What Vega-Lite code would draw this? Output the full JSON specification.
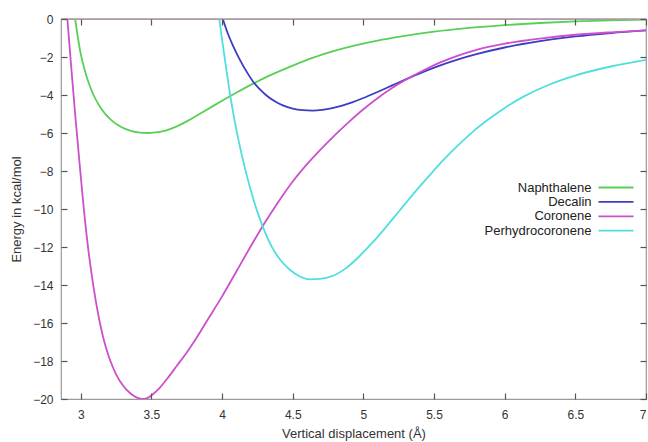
{
  "$schema": "https://vega.github.io/schema/vega-lite/v6.json",
  "width": 585,
  "height": 380,
  "autosize": {"type": "none"},
  "padding": {"left": 61, "top": 19, "right": 2, "bottom": 43},
  "background": "white",
  "config": {
    "font": "Liberation Sans",
    "view": {"stroke": "#9a9a9a", "strokeWidth": 1.2},
    "axis": {"grid": false, "domain": false, "labelFontSize": 12, "labelColor": "#333333", "titleFontSize": 13, "titleFontWeight": "normal", "titleColor": "#333333"}
  },
  "datasets": {
    "curves": [
      {"molecule": "Naphthalene", "r": 2.96, "E": 0},
      {"molecule": "Naphthalene", "r": 2.98, "E": -1.0},
      {"molecule": "Naphthalene", "r": 3.0, "E": -1.85},
      {"molecule": "Naphthalene", "r": 3.03, "E": -2.75},
      {"molecule": "Naphthalene", "r": 3.06, "E": -3.45},
      {"molecule": "Naphthalene", "r": 3.09, "E": -4.0},
      {"molecule": "Naphthalene", "r": 3.13, "E": -4.55},
      {"molecule": "Naphthalene", "r": 3.17, "E": -4.97},
      {"molecule": "Naphthalene", "r": 3.21, "E": -5.28},
      {"molecule": "Naphthalene", "r": 3.26, "E": -5.57},
      {"molecule": "Naphthalene", "r": 3.31, "E": -5.77},
      {"molecule": "Naphthalene", "r": 3.36, "E": -5.9},
      {"molecule": "Naphthalene", "r": 3.42, "E": -5.98},
      {"molecule": "Naphthalene", "r": 3.47, "E": -6.0},
      {"molecule": "Naphthalene", "r": 3.53, "E": -5.97},
      {"molecule": "Naphthalene", "r": 3.6, "E": -5.87},
      {"molecule": "Naphthalene", "r": 3.68, "E": -5.65},
      {"molecule": "Naphthalene", "r": 3.76, "E": -5.35},
      {"molecule": "Naphthalene", "r": 3.84, "E": -5.0},
      {"molecule": "Naphthalene", "r": 3.92, "E": -4.65},
      {"molecule": "Naphthalene", "r": 4.0, "E": -4.3},
      {"molecule": "Naphthalene", "r": 4.1, "E": -3.88},
      {"molecule": "Naphthalene", "r": 4.22, "E": -3.4},
      {"molecule": "Naphthalene", "r": 4.35, "E": -2.93},
      {"molecule": "Naphthalene", "r": 4.5, "E": -2.45},
      {"molecule": "Naphthalene", "r": 4.65, "E": -2.02},
      {"molecule": "Naphthalene", "r": 4.8, "E": -1.67},
      {"molecule": "Naphthalene", "r": 4.95, "E": -1.38},
      {"molecule": "Naphthalene", "r": 5.1, "E": -1.14},
      {"molecule": "Naphthalene", "r": 5.26, "E": -0.93},
      {"molecule": "Naphthalene", "r": 5.5, "E": -0.67},
      {"molecule": "Naphthalene", "r": 5.75, "E": -0.47},
      {"molecule": "Naphthalene", "r": 6.0, "E": -0.32},
      {"molecule": "Naphthalene", "r": 6.25, "E": -0.21},
      {"molecule": "Naphthalene", "r": 6.5, "E": -0.13},
      {"molecule": "Naphthalene", "r": 6.75, "E": -0.07},
      {"molecule": "Naphthalene", "r": 7.0, "E": -0.03},
      {"molecule": "Decalin", "r": 4.005, "E": 0},
      {"molecule": "Decalin", "r": 4.04, "E": -0.75},
      {"molecule": "Decalin", "r": 4.08, "E": -1.45},
      {"molecule": "Decalin", "r": 4.13, "E": -2.2},
      {"molecule": "Decalin", "r": 4.18, "E": -2.85},
      {"molecule": "Decalin", "r": 4.22, "E": -3.3},
      {"molecule": "Decalin", "r": 4.27, "E": -3.72},
      {"molecule": "Decalin", "r": 4.31, "E": -4.0},
      {"molecule": "Decalin", "r": 4.37, "E": -4.32},
      {"molecule": "Decalin", "r": 4.43, "E": -4.55},
      {"molecule": "Decalin", "r": 4.5, "E": -4.72},
      {"molecule": "Decalin", "r": 4.57, "E": -4.8},
      {"molecule": "Decalin", "r": 4.64, "E": -4.82},
      {"molecule": "Decalin", "r": 4.71, "E": -4.78},
      {"molecule": "Decalin", "r": 4.78, "E": -4.69},
      {"molecule": "Decalin", "r": 4.85, "E": -4.56},
      {"molecule": "Decalin", "r": 4.92, "E": -4.39},
      {"molecule": "Decalin", "r": 5.0, "E": -4.16},
      {"molecule": "Decalin", "r": 5.1, "E": -3.84},
      {"molecule": "Decalin", "r": 5.2, "E": -3.51},
      {"molecule": "Decalin", "r": 5.3, "E": -3.18},
      {"molecule": "Decalin", "r": 5.42, "E": -2.8},
      {"molecule": "Decalin", "r": 5.54, "E": -2.45},
      {"molecule": "Decalin", "r": 5.66, "E": -2.15},
      {"molecule": "Decalin", "r": 5.8, "E": -1.85},
      {"molecule": "Decalin", "r": 6.0, "E": -1.5},
      {"molecule": "Decalin", "r": 6.25, "E": -1.17},
      {"molecule": "Decalin", "r": 6.5, "E": -0.92},
      {"molecule": "Decalin", "r": 6.75, "E": -0.74},
      {"molecule": "Decalin", "r": 7.0, "E": -0.6},
      {"molecule": "Coronene", "r": 2.905, "E": 0},
      {"molecule": "Coronene", "r": 2.93, "E": -2.3},
      {"molecule": "Coronene", "r": 2.96, "E": -5.0},
      {"molecule": "Coronene", "r": 3.0, "E": -8.3},
      {"molecule": "Coronene", "r": 3.04, "E": -11.3},
      {"molecule": "Coronene", "r": 3.09, "E": -14.1},
      {"molecule": "Coronene", "r": 3.13, "E": -15.8},
      {"molecule": "Coronene", "r": 3.16, "E": -16.8},
      {"molecule": "Coronene", "r": 3.2, "E": -17.8},
      {"molecule": "Coronene", "r": 3.25, "E": -18.7},
      {"molecule": "Coronene", "r": 3.3, "E": -19.3},
      {"molecule": "Coronene", "r": 3.35, "E": -19.7},
      {"molecule": "Coronene", "r": 3.39, "E": -19.9},
      {"molecule": "Coronene", "r": 3.43, "E": -20.0},
      {"molecule": "Coronene", "r": 3.47, "E": -19.95},
      {"molecule": "Coronene", "r": 3.51, "E": -19.75},
      {"molecule": "Coronene", "r": 3.56, "E": -19.4},
      {"molecule": "Coronene", "r": 3.62, "E": -18.85},
      {"molecule": "Coronene", "r": 3.68, "E": -18.25},
      {"molecule": "Coronene", "r": 3.75, "E": -17.55},
      {"molecule": "Coronene", "r": 3.8, "E": -17.0},
      {"molecule": "Coronene", "r": 3.9, "E": -15.8},
      {"molecule": "Coronene", "r": 4.0, "E": -14.6},
      {"molecule": "Coronene", "r": 4.1, "E": -13.3},
      {"molecule": "Coronene", "r": 4.2, "E": -12.0},
      {"molecule": "Coronene", "r": 4.3, "E": -10.75},
      {"molecule": "Coronene", "r": 4.4, "E": -9.6},
      {"molecule": "Coronene", "r": 4.5, "E": -8.55},
      {"molecule": "Coronene", "r": 4.6, "E": -7.65},
      {"molecule": "Coronene", "r": 4.7, "E": -6.85},
      {"molecule": "Coronene", "r": 4.8, "E": -6.1},
      {"molecule": "Coronene", "r": 4.9, "E": -5.4},
      {"molecule": "Coronene", "r": 5.0, "E": -4.75},
      {"molecule": "Coronene", "r": 5.1, "E": -4.17},
      {"molecule": "Coronene", "r": 5.2, "E": -3.65},
      {"molecule": "Coronene", "r": 5.3, "E": -3.2},
      {"molecule": "Coronene", "r": 5.42, "E": -2.72},
      {"molecule": "Coronene", "r": 5.54, "E": -2.3},
      {"molecule": "Coronene", "r": 5.66, "E": -1.95},
      {"molecule": "Coronene", "r": 5.8, "E": -1.62},
      {"molecule": "Coronene", "r": 6.0, "E": -1.3},
      {"molecule": "Coronene", "r": 6.25, "E": -1.03},
      {"molecule": "Coronene", "r": 6.5, "E": -0.83},
      {"molecule": "Coronene", "r": 6.75, "E": -0.7},
      {"molecule": "Coronene", "r": 7.0, "E": -0.6},
      {"molecule": "Perhydrocoronene", "r": 3.98, "E": 0},
      {"molecule": "Perhydrocoronene", "r": 4.0, "E": -1.1},
      {"molecule": "Perhydrocoronene", "r": 4.03, "E": -2.65},
      {"molecule": "Perhydrocoronene", "r": 4.055, "E": -3.9},
      {"molecule": "Perhydrocoronene", "r": 4.09, "E": -5.4},
      {"molecule": "Perhydrocoronene", "r": 4.13, "E": -6.85},
      {"molecule": "Perhydrocoronene", "r": 4.17, "E": -8.1},
      {"molecule": "Perhydrocoronene", "r": 4.21, "E": -9.2},
      {"molecule": "Perhydrocoronene", "r": 4.25, "E": -10.15},
      {"molecule": "Perhydrocoronene", "r": 4.3, "E": -11.15},
      {"molecule": "Perhydrocoronene", "r": 4.36, "E": -12.1},
      {"molecule": "Perhydrocoronene", "r": 4.42, "E": -12.75},
      {"molecule": "Perhydrocoronene", "r": 4.48, "E": -13.2},
      {"molecule": "Perhydrocoronene", "r": 4.55, "E": -13.55},
      {"molecule": "Perhydrocoronene", "r": 4.62, "E": -13.7},
      {"molecule": "Perhydrocoronene", "r": 4.69, "E": -13.68},
      {"molecule": "Perhydrocoronene", "r": 4.79, "E": -13.5},
      {"molecule": "Perhydrocoronene", "r": 4.88, "E": -13.1},
      {"molecule": "Perhydrocoronene", "r": 4.97, "E": -12.5},
      {"molecule": "Perhydrocoronene", "r": 5.06, "E": -11.8},
      {"molecule": "Perhydrocoronene", "r": 5.16, "E": -10.95},
      {"molecule": "Perhydrocoronene", "r": 5.26, "E": -10.05},
      {"molecule": "Perhydrocoronene", "r": 5.36, "E": -9.15},
      {"molecule": "Perhydrocoronene", "r": 5.46, "E": -8.3},
      {"molecule": "Perhydrocoronene", "r": 5.55, "E": -7.55},
      {"molecule": "Perhydrocoronene", "r": 5.66, "E": -6.72},
      {"molecule": "Perhydrocoronene", "r": 5.78, "E": -5.9},
      {"molecule": "Perhydrocoronene", "r": 5.9, "E": -5.2},
      {"molecule": "Perhydrocoronene", "r": 6.0, "E": -4.68},
      {"molecule": "Perhydrocoronene", "r": 6.13, "E": -4.1},
      {"molecule": "Perhydrocoronene", "r": 6.3, "E": -3.5},
      {"molecule": "Perhydrocoronene", "r": 6.48, "E": -3.02},
      {"molecule": "Perhydrocoronene", "r": 6.75, "E": -2.5},
      {"molecule": "Perhydrocoronene", "r": 7.0, "E": -2.15}
    ]
  },
  "layer": [
    {
      "data": {"name": "curves"},
      "mark": {"type": "line", "interpolate": "monotone", "strokeWidth": 1.8, "clip": true},
      "encoding": {
        "x": {
          "field": "r", "type": "quantitative",
          "scale": {"domain": [2.86, 7], "nice": false, "zero": false},
          "axis": {"orient": "bottom", "values": [3, 3.5, 4, 4.5, 5, 5.5, 6, 6.5, 7], "format": "~g", "ticks": true, "tickSize": 6, "tickColor": "#555555", "tickWidth": 1.2, "offset": -6, "zindex": 1, "labelPadding": 10, "title": "Vertical displacement (Å)", "titlePadding": 7}
        },
        "y": {
          "field": "E", "type": "quantitative",
          "scale": {"domain": [-20, 0], "nice": false, "zero": false},
          "axis": {"orient": "left", "values": [-20, -18, -16, -14, -12, -10, -8, -6, -4, -2, 0], "ticks": true, "tickSize": 6, "tickColor": "#555555", "tickWidth": 1.2, "offset": -6, "zindex": 1, "labelPadding": 8, "title": "Energy in kcal/mol", "titlePadding": 9}
        },
        "color": {
          "field": "molecule", "type": "nominal",
          "scale": {"domain": ["Naphthalene", "Decalin", "Coronene", "Perhydrocoronene"], "range": ["#58d058", "#3c3cc4", "#cc50cc", "#50dede"]},
          "legend": {"orient": "none", "legendX": 548.5, "legendY": 162, "title": null, "symbolType": "M-5,0H5", "symbolSize": 49, "symbolStrokeWidth": 1.8, "labelAlign": "right", "labelOffset": -31, "labelFontSize": 13, "labelColor": "#222222", "rowPadding": 0.4}
        }
      }
    },
    {
      "data": {"values": [{}]},
      "mark": {"type": "rule", "color": "#b39ca8", "strokeWidth": 1.5},
      "encoding": {
        "x": {"datum": 2.86, "type": "quantitative", "axis": {"orient": "top", "values": [3, 3.5, 4, 4.5, 5, 5.5, 6, 6.5, 7], "ticks": true, "tickSize": 6, "tickColor": "#555555", "tickWidth": 1.2, "offset": -6, "zindex": 1, "labels": false, "title": null}},
        "x2": {"datum": 7},
        "y": {"datum": 0, "type": "quantitative", "axis": {"orient": "right", "values": [-20, -18, -16, -14, -12, -10, -8, -6, -4, -2, 0], "ticks": true, "tickSize": 6, "tickColor": "#555555", "tickWidth": 1.2, "offset": -6, "zindex": 1, "labels": false, "title": null}}
      }
    }
  ],
  "resolve": {"axis": {"x": "independent", "y": "independent"}}
}
